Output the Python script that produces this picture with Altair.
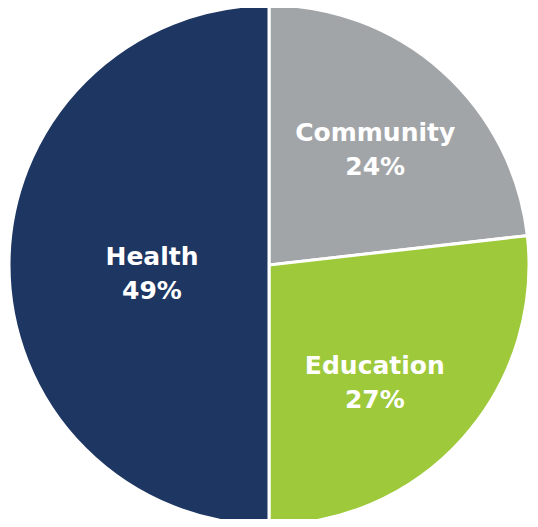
import altair as alt
import pandas as pd

categories = ["Community", "Education", "Health"]
values = [23.2, 26.8, 50.0]
labels = ["24%", "27%", "49%"]
colors = ["#a2a5a8", "#9dc93b", "#1e3662"]

df = pd.DataFrame({
    "category": categories,
    "value": values,
    "order": [0, 1, 2],
    "text": [f"{c}\n{l}" for c, l in zip(categories, labels)],
})

cx, cy, R = 261, 257, 260
theta_scale = alt.Scale(domain=[0, 100])

base = alt.Chart(df).transform_stack(
    stack="value", as_=["v0", "v1"], groupby=[], sort=[alt.SortField("order")]
).transform_calculate(mid="(datum.v0 + datum.v1) / 2")

pie = base.mark_arc(stroke="white", strokeWidth=3, outerRadius=R).encode(
    theta=alt.Theta("v0:Q", scale=theta_scale),
    theta2="v1:Q",
    x=alt.value(cx), y=alt.value(cy),
    color=alt.Color("category:N", scale=alt.Scale(domain=categories, range=colors), legend=None),
)

txt_kw = dict(color="white", font="DejaVu Sans", fontWeight="bold", fontSize=25,
              lineBreak="\n", lineHeight=34, align="center", baseline="middle")

txt_enc = dict(
    theta=alt.Theta("mid:Q", scale=theta_scale),
    x=alt.value(cx), y=alt.value(cy),
    text="text:N",
)

label_style = {
    "Community": dict(radius=158, dx=1, dy=-14),
    "Education": dict(radius=158, dx=-12, dy=-4),
    "Health": dict(radius=116, dx=-1, dy=-8),
}

layers = [pie]
for cat in categories:
    layers.append(
        base.mark_text(**label_style[cat], **txt_kw).encode(**txt_enc).transform_filter(
            alt.datum.category == cat)
    )

chart = alt.layer(*layers).properties(
    width=522, height=511, autosize=alt.AutoSizeParams(type="none"), padding=0
).configure_view(stroke=None)

chart.save("out.html", embed_options={"renderer": "svg", "actions": False})
